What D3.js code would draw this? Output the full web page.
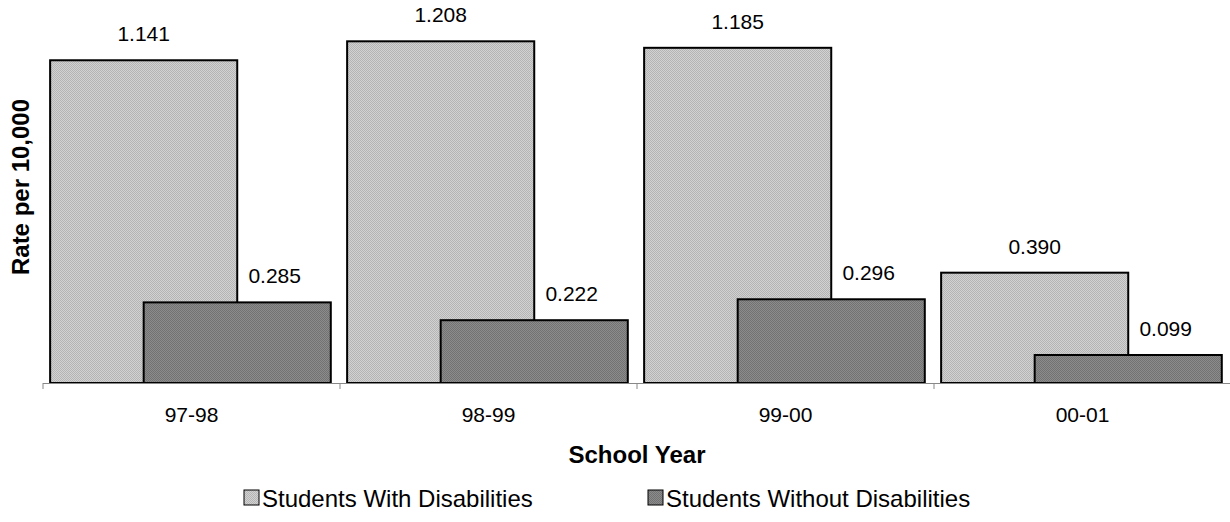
<!DOCTYPE html>
<html><head><meta charset="utf-8">
<script src="https://cdn.jsdelivr.net/npm/d3@7"></script>
<style>body{margin:0;background:#fff}svg{display:block}text{font-family:Arial,"Liberation Sans",sans-serif}</style>
</head><body>
<svg id="c" width="1230" height="522"></svg>
<script>
const categories = ["97-98","98-99","99-00","00-01"];
const seriesNames = ["Students With Disabilities","Students Without Disabilities"];
const withDis = [1.141,1.208,1.185,0.390];
const withoutDis = [0.285,0.222,0.296,0.099];
const labelsWith = ["1.141","1.208","1.185","0.390"];
const labelsWithout = ["0.285","0.222","0.296","0.099"];
const colorsA = ["#b4b4b4","#727272"];
const colorsB = ["#d2d2d2","#8c8c8c"];

const svg = d3.select("#c");
const defs = svg.append("defs");
colorsA.forEach((c,i)=>{
  const p = defs.append("pattern").attr("id","pat"+i).attr("width",2).attr("height",2).attr("patternUnits","userSpaceOnUse");
  p.append("rect").attr("width",2).attr("height",2).attr("fill",colorsB[i]);
  p.append("rect").attr("width",1).attr("height",1).attr("fill",c);
  p.append("rect").attr("x",1).attr("y",1).attr("width",1).attr("height",1).attr("fill",c);
});

const x = d3.scaleBand().domain(categories).range([43,1231]).padding(0);
const y = d3.scaleLinear().domain([0,1.4]).range([383,-13]);
const bw = x.bandwidth()*0.63;
const inset = x.bandwidth()*0.024;

const series = [withDis, withoutDis];
const labels = [labelsWith, labelsWithout];

// axis
const ax = svg.append("g").attr("transform","translate(0,383)")
  .call(d3.axisBottom(x).tickSize(0).tickPadding(24).tickFormat(d=>d));
ax.select(".domain").remove();
ax.selectAll("text").attr("font-size",21).attr("fill","#000").attr("font-family","Arial, 'Liberation Sans', sans-serif");

series.forEach((vals,s)=>{
  svg.append("g").selectAll("rect").data(categories).join("rect")
    .attr("x",d=>x(d)+inset+s*bw/2)
    .attr("y",(d,i)=>y(vals[i]))
    .attr("width",bw)
    .attr("height",(d,i)=>y(0)-y(vals[i]))
    .attr("fill","url(#pat"+s+")").attr("stroke","#000").attr("stroke-width",2);
});
series.forEach((vals,s)=>{
  svg.append("g").selectAll("text").data(categories).join("text")
    .attr("x",d=>x(d)+inset+s*bw/2+bw/2+s*bw*0.2)
    .attr("y",(d,i)=>y(vals[i])-19)
    .attr("text-anchor","middle").attr("font-size",21).attr("fill","#000")
    .text((d,i)=>labels[s][i]);
});

// baseline and ticks
svg.append("line").attr("x1",43).attr("x2",1230).attr("y1",383.5).attr("y2",383.5).attr("stroke","#888").attr("stroke-width",1);
svg.append("g").selectAll("line").data(categories.concat(["end"])).join("line")
  .attr("x1",(d,i)=>43+i*x.bandwidth()).attr("x2",(d,i)=>43+i*x.bandwidth())
  .attr("y1",383).attr("y2",389).attr("stroke","#888");

svg.append("text").attr("x",637).attr("y",463).attr("text-anchor","middle")
  .attr("font-size",24).attr("font-weight","bold").text("School Year");
svg.append("text").attr("transform","translate(29,187) rotate(-90)").attr("text-anchor","middle")
  .attr("font-size",24).attr("font-weight","bold").text("Rate per 10,000");

const lx = [244, 648];
seriesNames.forEach((n,i)=>{
  svg.append("rect").attr("x",lx[i]).attr("y",490).attr("width",15).attr("height",15)
    .attr("fill","url(#pat"+i+")").attr("stroke","#000").attr("stroke-width",1);
  svg.append("text").attr("x",lx[i]+18).attr("y",507).attr("font-size",24).text(n);
});
</script>
</body></html>
